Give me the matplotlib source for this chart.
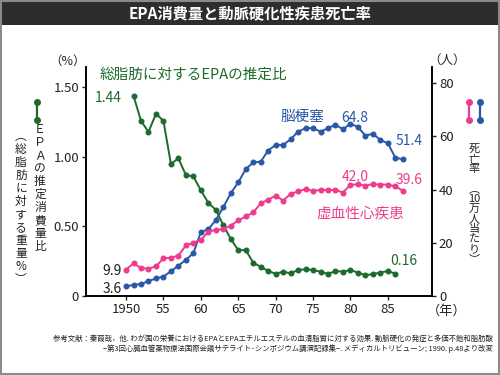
import numpy as np
import matplotlib
matplotlib.use('Agg')
import matplotlib.pyplot as plt
from matplotlib.lines import Line2D
from matplotlib.patches import Rectangle

plt.rcParams['font.family'] = ['Noto Sans CJK JP', 'DejaVu Sans']

# EPA share of total fat intake (%), left axis
epa_years = np.arange(1951, 1987)
epa_ratio = [1.44, 1.26, 1.18, 1.31, 1.26, 0.95, 0.99, 0.87, 0.86, 0.76,
             0.67, 0.62, 0.51, 0.41, 0.33, 0.33, 0.24, 0.21, 0.18, 0.16,
             0.175, 0.163, 0.187, 0.192, 0.187, 0.175, 0.158, 0.18, 0.175, 0.187,
             0.168, 0.149, 0.158, 0.168, 0.18, 0.16]

# death rate per 100,000, right axis
death_years = np.arange(1950, 1988)
cerebral = [3.6, 4.2, 4.5, 5.6, 6.6, 7.3, 9.3, 11.4, 13.6, 16.1,
            24.0, 25.1, 28.5, 33.4, 38.6, 42.7, 47.7, 50.2, 50.5, 54.7,
            56.8, 56.8, 58.9, 61.8, 63.1, 63.1, 61.8, 63.1, 64.4, 62.7,
            64.8, 63.5, 60.3, 61.0, 58.7, 57.4, 52.0, 51.4]
ischemic = [9.9, 12.3, 10.5, 10.3, 11.1, 14.2, 14.4, 15.2, 19.0, 20.1,
            21.1, 24.1, 24.9, 25.1, 26.5, 28.4, 29.9, 31.4, 34.8, 36.2,
            37.7, 35.9, 38.4, 39.3, 40.2, 39.5, 39.9, 39.9, 39.9, 38.9,
            41.8, 42.0, 41.5, 42.1, 41.9, 41.9, 41.2, 39.6]

x_ticks = [1950, 1955, 1960, 1965, 1970, 1975, 1980, 1985]
x_ticklabels = ['1950', '55', '60', '65', '70', '75', '80', '85']
left_ticks = [0, 0.5, 1.0, 1.5]
left_ticklabels = ['0', '0.50', '1.00', '1.50']
right_ticks = [0, 20, 40, 60, 80]

GREEN = '#1d6b2c'
BLUE = '#2a58a6'
PINK = '#ee3b8e'
TXT = '#222222'

W, H = 500, 375


def fx(x):
    return x / W


def fy(y):
    return 1 - y / H


def vtext(x, y, s, size, color=TXT, ls=1.0):
    fig.text(fx(x), fy(y), '\n'.join(s), ha='center', va='center',
             fontsize=size, color=color, linespacing=ls)


fig = plt.figure(figsize=(5, 3.75), dpi=100)
fig.patch.set_facecolor('white')

# title bar and frame
fig.add_artist(Rectangle((0, fy(25)), 1, 25 / H, transform=fig.transFigure,
                         facecolor='#2d2d2d', edgecolor='none'))
fig.add_artist(Rectangle((0.002, 0.003), 0.996, 0.994, transform=fig.transFigure,
                         facecolor='none', edgecolor='#8a8a8a', linewidth=1.5))
fig.text(0.5, fy(13), 'EPA消費量と動脈硬化性疾患死亡率', ha='center', va='center',
         color='white', fontsize=11, fontweight='bold')

ax = fig.add_axes([86 / W, 79 / H, 346 / W, 229 / H])
ax2 = ax.twinx()

ax.plot(epa_years, epa_ratio, color=GREEN, lw=1.4, marker='o', ms=3.3)
ax2.plot(death_years, cerebral, color=BLUE, lw=1.4, marker='o', ms=3.3)
ax2.plot(death_years, ischemic, color=PINK, lw=1.4, marker='o', ms=3.3)

ax.set_xlim(1944.65, 1990.9)
ax.set_ylim(0, 1.647)
ax2.set_ylim(0, 86.1)

ax.set_xticks(x_ticks)
ax.set_xticklabels(x_ticklabels)
ax.set_yticks(left_ticks)
ax.set_yticklabels(left_ticklabels)
ax2.set_yticks(right_ticks)

for a in (ax, ax2):
    a.spines['top'].set_visible(False)
    for s in ('left', 'right', 'bottom'):
        a.spines[s].set_linewidth(1.2)
        a.spines[s].set_color('black')
    a.tick_params(direction='out', length=3, width=1, labelsize=9.5,
                  colors=TXT, pad=2)

# unit labels
fig.text(fx(68), fy(61), '（%）', ha='center', va='center', fontsize=9, color=TXT)
fig.text(fx(447), fy(60), '（人）', ha='center', va='center', fontsize=9, color=TXT)
fig.text(fx(447), fy(311), '（年）', ha='center', va='center', fontsize=9.5, color=TXT)

# vertical axis titles
vtext(40, 188, ['Ｅ', 'Ｐ', 'Ａ', 'の', '推', '定', '消', '費', '量', '比'], 8.5)
vtext(21, 208, ['︵', '総', '脂', '肪', 'に', '対', 'す', 'る', '重', '量', '%', '︶'], 8.5)
vtext(474, 204, ['死', '亡', '率', '', '︵', '10', '万', '人', '当', 'た', 'り', '︶'], 8)

# legend icons
for x, c in ((37, GREEN), (469, PINK), (480, BLUE)):
    fig.add_artist(Line2D([fx(x), fx(x)], [fy(102), fy(120)], transform=fig.transFigure,
                          color=c, lw=1.6, marker='o', ms=4))

# annotations
fig.text(fx(100), fy(75), '総脂肪に対するEPAの推定比', ha='left', va='center',
         fontsize=10.5, color=GREEN)
fig.text(fx(122), fy(98), '1.44', ha='right', va='center', fontsize=10, color=GREEN)
fig.text(fx(404), fy(261), '0.16', ha='center', va='center', fontsize=10, color=GREEN)
fig.text(fx(303), fy(117), '脳梗塞', ha='center', va='center', fontsize=10.5, color=BLUE)
fig.text(fx(355), fy(118), '64.8', ha='center', va='center', fontsize=10, color=BLUE)
fig.text(fx(409), fy(141), '51.4', ha='center', va='center', fontsize=10, color=BLUE)
fig.text(fx(355), fy(177), '42.0', ha='center', va='center', fontsize=10, color=PINK)
fig.text(fx(409), fy(180), '39.6', ha='center', va='center', fontsize=10, color=PINK)
fig.text(fx(360), fy(213), '虚血性心疾患', ha='center', va='center', fontsize=10.5, color=PINK)
fig.text(fx(122), fy(271), '9.9', ha='right', va='center', fontsize=10, color=TXT)
fig.text(fx(122), fy(289), '3.6', ha='right', va='center', fontsize=10, color=TXT)

# reference
fig.text(fx(493), fy(339), '参考文献：秦葭哉，他. わが国の栄養におけるEPAとEPAエチルエステルの血清脂質に対する効果. 動脈硬化の発症と多価不飽和脂肪酸',
         ha='right', va='center', fontsize=5.3, color=TXT)
fig.text(fx(493), fy(349), '−第3回心臓血管薬物療法国際会議サテライト･シンポジウム講演記録集−. メディカルトリビューン; 1990. p.48より改変',
         ha='right', va='center', fontsize=5.3, color=TXT)

fig.savefig('out.png', dpi=100)
